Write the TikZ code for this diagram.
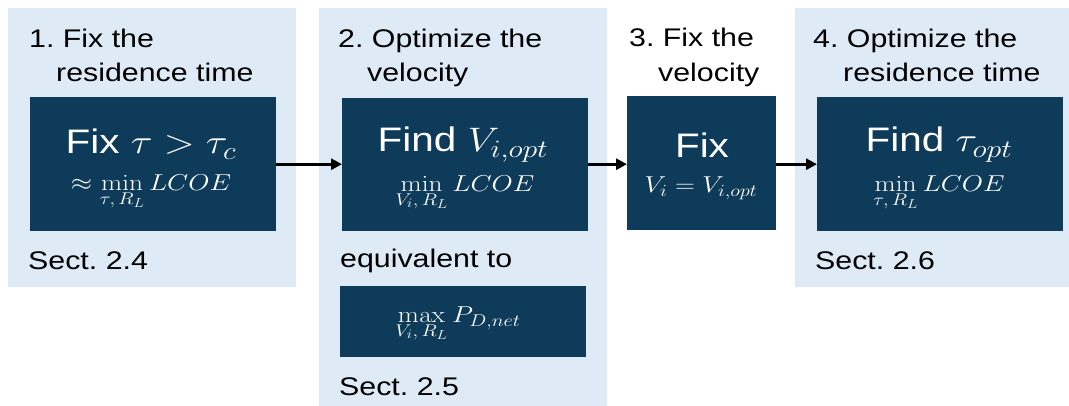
\RequirePackage{fix-cm}
\documentclass[tikz,border=0pt]{standalone}
\usepackage[no-math]{fontspec}
\setmainfont{Liberation Sans}
\usepackage{graphicx}
\usetikzlibrary{arrows.meta}
\DeclareMathSizes{23}{23}{17}{13}
\DeclareMathSizes{34}{34}{25}{18}
\definecolor{panelblue}{HTML}{DEEAF6}
\definecolor{darkblue}{HTML}{0D3B59}
\newcommand{\hs}[1]{\scalebox{1.19}[1]{#1}}
\tikzset{
  panelbox/.style={fill=panelblue, draw=none, inner sep=0pt, anchor=north west},
  darkbox/.style={fill=darkblue, draw=none, inner sep=0pt, anchor=north west},
  lbl/.style={font=\fontsize{25.5}{30}\selectfont, text=black, inner sep=0pt, anchor=base west},
  bigtxt/.style={font=\fontsize{34}{40}\selectfont, text=white, inner sep=0pt, anchor=base},
  mathtxt/.style={font=\fontsize{23}{26}\selectfont, text=white, inner sep=0pt, anchor=base},
  arr/.style={line width=3pt, -{Triangle[length=11pt,width=11pt]}}
}
\begin{document}
\begin{tikzpicture}[x=1pt,y=-1pt]
\useasboundingbox (0,0) rectangle (1069,406);
% panels
\node[panelbox, minimum width=288pt, minimum height=279pt] (p1) at (8,8) {};
\node[panelbox, minimum width=288pt, minimum height=398pt] (p2) at (319,8) {};
\node[panelbox, minimum width=274pt, minimum height=279pt] (p4) at (795,8) {};
% dark boxes
\node[darkbox, minimum width=246pt, minimum height=134pt] (b1) at (30,97) {};
\node[darkbox, minimum width=246pt, minimum height=133pt] (b2) at (342,98) {};
\node[darkbox, minimum width=246pt, minimum height=71pt] (b2m) at (340,286) {};
\node[darkbox, minimum width=149pt, minimum height=134pt] (b3) at (627,96) {};
\node[darkbox, minimum width=246pt, minimum height=134pt] (b4) at (817,97) {};
% titles
\node[lbl] (t1a) at (29,48) {\hs{1.\ Fix the}};
\node[lbl] (t1b) at (56,82) {\hs{residence time}};
\node[lbl] (t2a) at (338,48) {\hs{2.\ Optimize the}};
\node[lbl] (t2b) at (367,82) {\hs{velocity}};
\node[lbl] (t3a) at (629,47) {\hs{3.\ Fix the}};
\node[lbl] (t3b) at (658,82) {\hs{velocity}};
\node[lbl] (t4a) at (813,48) {\hs{4.\ Optimize the}};
\node[lbl] (t4b) at (843,82) {\hs{residence time}};
% section labels
\node[lbl] (s1) at (28,270) {\hs{Sect.\ 2.4}};
\node[lbl] (eq) at (340,268) {\hs{equivalent to}};
\node[lbl] (s2) at (339,395) {\hs{Sect.\ 2.5}};
\node[lbl] (s4) at (815,270) {\hs{Sect.\ 2.6}};
% box contents
\node[bigtxt] (b1a) at (151,154) {\hs{Fix $\tau > \tau_c$}};
\node[mathtxt] (b1b) at (151,191) {\hs{$\displaystyle \approx \min_{\tau,\,R_L} LCOE$}};
\node[bigtxt] (b2a) at (463,152) {\hs{Find $V_{i,opt}$}};
\node[mathtxt] (b2b) at (465,192) {\hs{$\displaystyle \min_{V_i,\,R_L} LCOE$}};
\node[mathtxt] (b2c) at (458,323) {\hs{$\displaystyle \max_{V_i,\,R_L} P_{D,net}$}};
\node[bigtxt] (b3a) at (702,158) {\hs{Fix}};
\node[mathtxt] (b3b) at (701,193) {\hs{$V_i = V_{i,opt}$}};
\node[bigtxt] (b4a) at (939,152) {\hs{Find $\tau_{opt}$}};
\node[mathtxt] (b4b) at (939,192) {\hs{$\displaystyle \min_{\tau,\,R_L} LCOE$}};
% arrows
\draw[arr] (b1.east) -- (b2.west |- b1.east);
\draw[arr] (b2.east |- b1.east) -- (b3.west |- b1.east);
\draw[arr] (b3.east |- b1.east) -- (b4.west |- b1.east);
\end{tikzpicture}
\end{document}
